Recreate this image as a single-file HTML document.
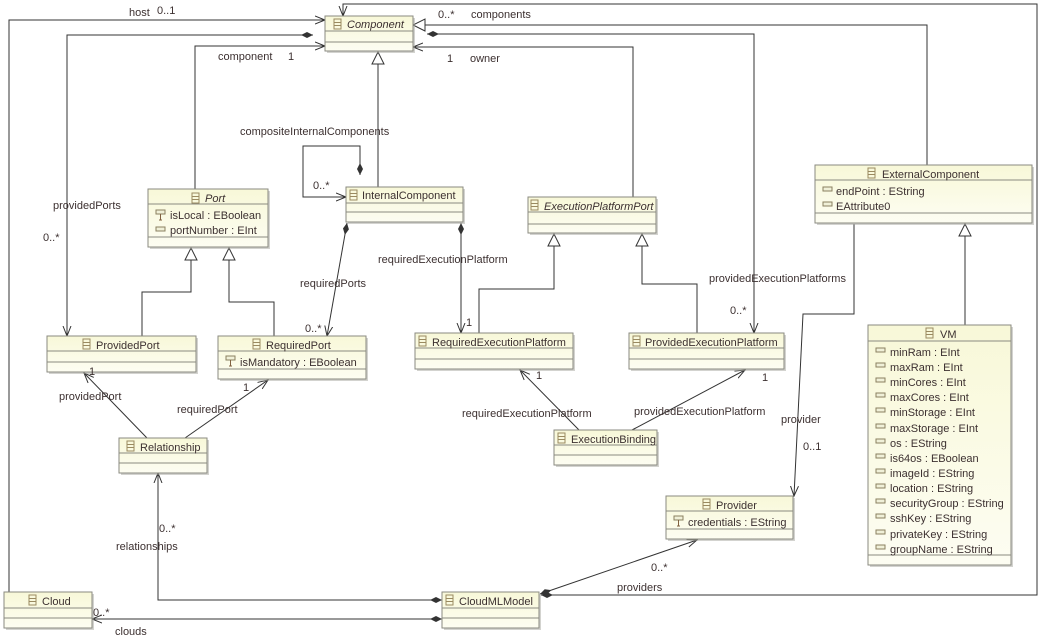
<!DOCTYPE html>
<html><head><meta charset="utf-8"><style>
html,body{margin:0;padding:0;background:#fff;width:1045px;height:640px;overflow:hidden}
svg{display:block}
text{font-family:"Liberation Sans","DejaVu Sans",sans-serif;font-size:11px;fill:#3c3030}
.b{fill:url(#g);stroke:#8a8a80;stroke-width:1}
.s{fill:#a8a8a0;opacity:.5}
.d{stroke:#8a8a80;stroke-width:1}
.l{fill:none;stroke:#333;stroke-width:1}
.n{fill:#222}
</style></head><body>
<svg width="1045" height="640" viewBox="0 0 1045 640">
<defs>
<linearGradient id="g" x1="0" y1="0" x2="0" y2="1"><stop offset="0" stop-color="#f8f8d8"/><stop offset="1" stop-color="#fdfdf2"/></linearGradient>
<marker id="a" markerWidth="12" markerHeight="12" refX="10" refY="5" orient="auto" markerUnits="userSpaceOnUse"><path d="M0,1 L10,5 L0,9" fill="none" stroke="#333"/></marker>
<marker id="t" markerWidth="16" markerHeight="16" refX="13" refY="7" orient="auto" markerUnits="userSpaceOnUse"><path d="M1,1 L13,7 L1,13 Z" fill="#fff" stroke="#333"/></marker>
<marker id="dm" markerWidth="16" markerHeight="10" refX="1" refY="4" orient="auto" markerUnits="userSpaceOnUse"><path d="M1,4 L7,1 L13,4 L7,7 Z" fill="#333"/></marker>
<g id="ic"><rect x="0" y="0" width="7" height="10" fill="none" stroke="#9a8a60"/><path d="M0,3.5H7M0,6.5H7" stroke="#9a8a60"/></g>
<g id="at"><rect x="0" y="0" width="9" height="4" fill="#f0f0d8" stroke="#8a8060"/></g>
<g id="ky"><rect x="0" y="0" width="9" height="4" fill="#f0f0d8" stroke="#8a8060"/><path d="M4.5,4V10M3,10H6" stroke="#806040"/></g>
</defs>

<path class="l" d="M9,592 V20 H325" marker-end="url(#a)"/>
<path class="l" d="M313,35 H67 V336" marker-end="url(#a)" marker-start="url(#dm)"/>
<path class="l" d="M195,189 V46 H325" marker-end="url(#a)"/>
<path class="l" d="M378,187 V52" marker-end="url(#t)"/>
<path class="l" d="M360,175 V146 H303 V197 H346" marker-end="url(#a)" marker-start="url(#dm)"/>
<path class="l" d="M347,223 L327,336" marker-end="url(#a)" marker-start="url(#dm)"/>
<path class="l" d="M461,223 V333" marker-end="url(#a)" marker-start="url(#dm)"/>
<path class="l" d="M142,336 V292 H191 V248" marker-end="url(#t)"/>
<path class="l" d="M274,336 V302 H229 V248" marker-end="url(#t)"/>
<path class="l" d="M479,333 V289 H554 V234" marker-end="url(#t)"/>
<path class="l" d="M697,333 V284 H642 V234" marker-end="url(#t)"/>
<path class="l" d="M633,197 V47 H413" marker-end="url(#a)"/>
<path class="l" d="M427,34 H754 V333" marker-end="url(#a)" marker-start="url(#dm)"/>
<path class="l" d="M927,165 V25 H413" marker-end="url(#t)"/>
<path class="l" d="M541,595 H1037 V4 H343 V16" marker-end="url(#a)" marker-start="url(#dm)"/>
<path class="l" d="M854,224 V314 H803 L794,496" marker-end="url(#a)"/>
<path class="l" d="M965,325 V224" marker-end="url(#t)"/>
<path class="l" d="M540,594 L697,540" marker-end="url(#a)" marker-start="url(#dm)"/>
<path class="l" d="M442,600 H158 V473" marker-end="url(#a)" marker-start="url(#dm)"/>
<path class="l" d="M442,619 H92" marker-end="url(#a)" marker-start="url(#dm)"/>
<path class="l" d="M147,438 L84,373" marker-end="url(#a)"/>
<path class="l" d="M185,438 L268,380" marker-end="url(#a)"/>
<path class="l" d="M579,430 L520,370" marker-end="url(#a)"/>
<path class="l" d="M632,430 L745,370" marker-end="url(#a)"/>

<g>
<rect class="s" x="327" y="18" width="88" height="35"/><rect class="b" x="325" y="16" width="88" height="35"/><path class="d" d="M325,31H413M325,42H413"/><use href="#ic" x="334" y="19"/><text x="347" y="28" font-style="italic">Component</text>

<rect class="s" x="150" y="191" width="120" height="58"/><rect class="b" x="148" y="189" width="120" height="58"/><path class="d" d="M148,204H268M148,237H268"/><use href="#ic" x="192" y="193"/><text x="205" y="202" font-style="italic">Port</text>
<use href="#ky" x="156" y="210"/><text x="170" y="219">isLocal : EBoolean</text><use href="#at" x="156" y="227"/><text x="170" y="234">portNumber : EInt</text>

<rect class="s" x="348" y="189" width="117" height="35"/><rect class="b" x="346" y="187" width="117" height="35"/><path class="d" d="M346,203H463M346,212H463"/><use href="#ic" x="350" y="190"/><text x="362" y="199">InternalComponent</text>

<rect class="s" x="530" y="199" width="128" height="36"/><rect class="b" x="528" y="197" width="128" height="36"/><path class="d" d="M528,212H656M528,224H656"/><use href="#ic" x="531" y="200"/><text x="544" y="210" font-style="italic" font-size="10.5">ExecutionPlatformPort</text>

<rect class="s" x="817" y="167" width="217" height="58"/><rect class="b" x="815" y="165" width="217" height="58"/><path class="d" d="M815,180H1032M815,213H1032"/><use href="#ic" x="868" y="168"/><text x="882" y="178">ExternalComponent</text>
<use href="#at" x="823" y="187"/><text x="836" y="195">endPoint : EString</text><use href="#at" x="823" y="202"/><text x="836" y="210">EAttribute0</text>

<rect class="s" x="49" y="338" width="149" height="36"/><rect class="b" x="47" y="336" width="149" height="36"/><path class="d" d="M47,351H196M47,362H196"/><use href="#ic" x="83" y="339"/><text x="96" y="349">ProvidedPort</text>

<rect class="s" x="220" y="338" width="148" height="43"/><rect class="b" x="218" y="336" width="148" height="43"/><path class="d" d="M218,351H366M218,369H366"/><use href="#ic" x="253" y="339"/><text x="266" y="349">RequiredPort</text>
<use href="#ky" x="226" y="356"/><text x="240" y="366">isMandatory : EBoolean</text>

<rect class="s" x="417" y="335" width="158" height="36"/><rect class="b" x="415" y="333" width="158" height="36"/><path class="d" d="M415,348H573M415,359H573"/><use href="#ic" x="419" y="336"/><text x="432" y="346">RequiredExecutionPlatform</text>

<rect class="s" x="631" y="335" width="155" height="36"/><rect class="b" x="629" y="333" width="155" height="36"/><path class="d" d="M629,348H784M629,359H784"/><use href="#ic" x="633" y="336"/><text x="645" y="346">ProvidedExecutionPlatform</text>

<rect class="s" x="870" y="327" width="143" height="240"/><rect class="b" x="868" y="325" width="143" height="240"/><path class="d" d="M868,341H1011M868,555H1011"/><use href="#ic" x="926" y="328"/><text x="940" y="338">VM</text>
<g>
<use href="#at" x="876" y="348"/><text x="890" y="356">minRam : EInt</text>
<use href="#at" x="876" y="363"/><text x="890" y="371">maxRam : EInt</text>
<use href="#at" x="876" y="378"/><text x="890" y="386">minCores : EInt</text>
<use href="#at" x="876" y="393"/><text x="890" y="401">maxCores : EInt</text>
<use href="#at" x="876" y="408"/><text x="890" y="416">minStorage : EInt</text>
<use href="#at" x="876" y="424"/><text x="890" y="432">maxStorage : EInt</text>
<use href="#at" x="876" y="439"/><text x="890" y="447">os : EString</text>
<use href="#at" x="876" y="454"/><text x="890" y="462">is64os : EBoolean</text>
<use href="#at" x="876" y="469"/><text x="890" y="477">imageId : EString</text>
<use href="#at" x="876" y="484"/><text x="890" y="492">location : EString</text>
<use href="#at" x="876" y="499"/><text x="890" y="507">securityGroup : EString</text>
<use href="#at" x="876" y="514"/><text x="890" y="522">sshKey : EString</text>
<use href="#at" x="876" y="530"/><text x="890" y="538">privateKey : EString</text>
<use href="#at" x="876" y="545"/><text x="890" y="553">groupName : EString</text>
</g>

<rect class="s" x="121" y="440" width="88" height="35"/><rect class="b" x="119" y="438" width="88" height="35"/><path class="d" d="M119,453H207M119,463H207"/><use href="#ic" x="127" y="441"/><text x="140" y="451">Relationship</text>

<rect class="s" x="556" y="432" width="103" height="35"/><rect class="b" x="554" y="430" width="103" height="35"/><path class="d" d="M554,445H657M554,455H657"/><use href="#ic" x="558" y="433"/><text x="571" y="443">ExecutionBinding</text>

<rect class="s" x="668" y="498" width="127" height="43"/><rect class="b" x="666" y="496" width="127" height="43"/><path class="d" d="M666,511H793M666,529H793"/><use href="#ic" x="703" y="499"/><text x="716" y="509">Provider</text>
<use href="#ky" x="674" y="516"/><text x="688" y="526">credentials : EString</text>

<rect class="s" x="6" y="594" width="88" height="36"/><rect class="b" x="4" y="592" width="88" height="36"/><path class="d" d="M4,608H92M4,618H92"/><use href="#ic" x="29" y="595"/><text x="42" y="605">Cloud</text>

<rect class="s" x="444" y="594" width="97" height="36"/><rect class="b" x="442" y="592" width="97" height="36"/><path class="d" d="M442,608H539M442,618H539"/><use href="#ic" x="446" y="595"/><text x="459" y="605">CloudMLModel</text>
</g>

<text x="129" y="16">host</text><text x="157" y="14">0..1</text>
<text x="438" y="18">0..*</text><text x="471" y="18">components</text>
<text x="218" y="60">component</text><text x="288" y="60">1</text>
<text x="447" y="62">1</text><text x="470" y="62">owner</text>
<text x="240" y="135">compositeInternalComponents</text>
<text x="313" y="189">0..*</text>
<text x="53" y="209">providedPorts</text><text x="43" y="241">0..*</text>
<text x="378" y="263">requiredExecutionPlatform</text>
<text x="300" y="287">requiredPorts</text><text x="305" y="332">0..*</text>
<text x="466" y="326">1</text>
<text x="709" y="282">providedExecutionPlatforms</text><text x="730" y="314">0..*</text>
<text x="89" y="375">1</text><text x="59" y="400">providedPort</text>
<text x="243" y="391">1</text><text x="177" y="413">requiredPort</text>
<text x="536" y="379">1</text><text x="462" y="417">requiredExecutionPlatform</text>
<text x="762" y="381">1</text><text x="634" y="415">providedExecutionPlatform</text>
<text x="781" y="423">provider</text><text x="803" y="450">0..1</text>
<text x="159" y="532">0..*</text><text x="116" y="550">relationships</text>
<text x="651" y="571">0..*</text><text x="617" y="591">providers</text>
<text x="93" y="616">0..*</text><text x="115" y="635">clouds</text>
</svg>
</body></html>
